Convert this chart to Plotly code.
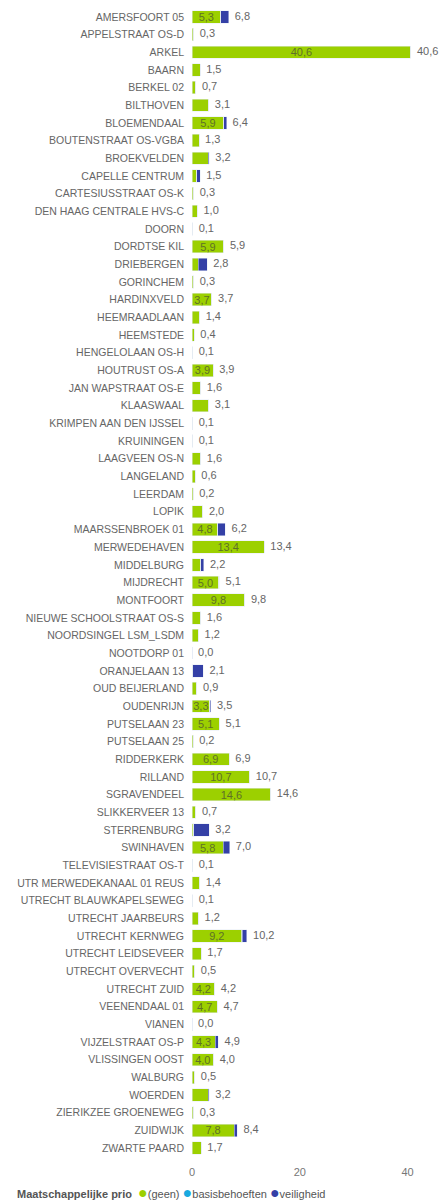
import plotly.graph_objects as go

stations = [
    'AMERSFOORT 05', 'APPELSTRAAT OS-D', 'ARKEL', 'BAARN', 'BERKEL 02', 'BILTHOVEN',
    'BLOEMENDAAL', 'BOUTENSTRAAT OS-VGBA', 'BROEKVELDEN', 'CAPELLE CENTRUM',
    'CARTESIUSSTRAAT OS-K', 'DEN HAAG CENTRALE HVS-C', 'DOORN', 'DORDTSE KIL',
    'DRIEBERGEN', 'GORINCHEM', 'HARDINXVELD', 'HEEMRAADLAAN', 'HEEMSTEDE',
    'HENGELOLAAN OS-H', 'HOUTRUST OS-A', 'JAN WAPSTRAAT OS-E', 'KLAASWAAL',
    'KRIMPEN AAN DEN IJSSEL', 'KRUININGEN', 'LAAGVEEN OS-N', 'LANGELAND', 'LEERDAM',
    'LOPIK', 'MAARSSENBROEK 01', 'MERWEDEHAVEN', 'MIDDELBURG', 'MIJDRECHT',
    'MONTFOORT', 'NIEUWE SCHOOLSTRAAT OS-S', 'NOORDSINGEL LSM_LSDM', 'NOOTDORP 01',
    'ORANJELAAN 13', 'OUD BEIJERLAND', 'OUDENRIJN', 'PUTSELAAN 23', 'PUTSELAAN 25',
    'RIDDERKERK', 'RILLAND', 'SGRAVENDEEL', 'SLIKKERVEER 13', 'STERRENBURG',
    'SWINHAVEN', 'TELEVISIESTRAAT OS-T', 'UTR MERWEDEKANAAL 01 REUS',
    'UTRECHT BLAUWKAPELSEWEG', 'UTRECHT JAARBEURS', 'UTRECHT KERNWEG',
    'UTRECHT LEIDSEVEER', 'UTRECHT OVERVECHT', 'UTRECHT ZUID', 'VEENENDAAL 01',
    'VIANEN', 'VIJZELSTRAAT OS-P', 'VLISSINGEN OOST', 'WALBURG', 'WOERDEN',
    'ZIERIKZEE GROENEWEG', 'ZUIDWIJK', 'ZWARTE PAARD',
]
geen = [
    5.3, 0.3, 40.6, 1.5, 0.7, 3.1,
    5.9, 1.3, 3.0, 0.9,
    0.3, 1.0, 0.1, 5.9,
    1.2, 0.3, 3.7, 1.4, 0.4,
    0.1, 3.9, 1.6, 3.1,
    0.1, 0.1, 1.6, 0.6, 0.2,
    2.0, 4.8, 13.4, 1.6, 5.0,
    9.8, 1.6, 1.2, 0.0,
    0.1, 0.9, 3.3, 5.1, 0.2,
    6.9, 10.7, 14.6, 0.7, 0.3,
    5.8, 0.1, 1.4,
    0.1, 1.2, 9.2,
    1.7, 0.5, 4.2, 4.7,
    0.0, 4.3, 4.0, 0.5, 3.0,
    0.3, 7.8, 1.7,
]
basisbehoeften = [0.0] * len(stations)
basisbehoeften[stations.index('UTRECHT KERNWEG')] = 0.1
veiligheid = [
    1.5, 0.0, 0.0, 0.0, 0.0, 0.0,
    0.5, 0.0, 0.2, 0.6,
    0.0, 0.0, 0.0, 0.0,
    1.6, 0.0, 0.0, 0.0, 0.0,
    0.0, 0.0, 0.0, 0.0,
    0.0, 0.0, 0.0, 0.0, 0.0,
    0.0, 1.4, 0.0, 0.6, 0.1,
    0.0, 0.0, 0.0, 0.0,
    2.0, 0.0, 0.2, 0.0, 0.0,
    0.0, 0.0, 0.0, 0.0, 2.9,
    1.2, 0.0, 0.0,
    0.0, 0.0, 0.9,
    0.0, 0.0, 0.0, 0.0,
    0.0, 0.6, 0.0, 0.0, 0.2,
    0.0, 0.6, 0.0,
]

GREEN = '#9CD000'
CYAN = '#18A9DF'
BLUE = '#3440A6'
GREY = '#666666'
FONT = 'Liberation Sans, Arial, sans-serif'


def nl(v):
    return f'{v:.1f}'.replace('.', ',')


totals = [g + b + v for g, b, v in zip(geen, basisbehoeften, veiligheid)]
inner = [nl(g) if g >= 3.25 else '' for g in geen]

fig = go.Figure()
fig.add_trace(go.Bar(
    y=stations, x=geen, orientation='h', marker_color=GREEN, name='(geen)',
    text=inner, textposition='inside', insidetextanchor='middle', textangle=0,
    constraintext='none',
    textfont=dict(color='#5f7028', size=11, family=FONT),
))
fig.add_trace(go.Bar(
    y=stations, x=basisbehoeften, orientation='h', marker_color=CYAN,
    name='basisbehoeften',
))
fig.add_trace(go.Bar(
    y=stations, x=veiligheid, orientation='h', marker_color=BLUE,
    name='veiligheid',
))
fig.add_trace(go.Scatter(
    y=stations, x=totals, mode='text', text=['\u00a0\u00a0' + nl(t) for t in totals],
    textposition='middle right', textfont=dict(color=GREY, size=11, family=FONT),
    cliponaxis=False, hoverinfo='skip',
))

# Power BI style legend line under the axis
legend_text = '<b>Maatschappelijke prio</b>  ' + ' '.join(
    f'<span style="color:{c};font-size:16px">\u25cf</span>{n}'
    for n, c in [('(geen)', GREEN), ('basisbehoeften', CYAN), ('veiligheid', BLUE)]
)
fig.add_annotation(
    text=legend_text, xref='paper', yref='paper', x=-0.80, y=-0.031,
    xanchor='left', yanchor='middle', showarrow=False,
    font=dict(size=11, color='#555555', family=FONT),
)

fig.update_layout(
    width=441, height=1202,
    margin=dict(l=192, r=28, t=8, b=45),
    barmode='stack', bargap=0.3,
    plot_bgcolor='white', paper_bgcolor='white',
    font=dict(family=FONT, size=11, color=GREY),
    showlegend=False,
)
fig.update_xaxes(
    range=[0, 41], tickvals=[0, 20, 40], showgrid=False, zeroline=False,
    showline=False, ticklabelstandoff=7, tickfont=dict(size=11, color='#777777'),
)
fig.update_yaxes(
    range=[len(stations) - 0.5, -0.5], showgrid=False, ticks='', ticklabelstandoff=7,
    automargin=False, tickfont=dict(size=10.5, color=GREY),
)

fig.write_html(
    'out.html',
    config={'displayModeBar': False},
    post_script="document.body.style.margin = '0';",
)
